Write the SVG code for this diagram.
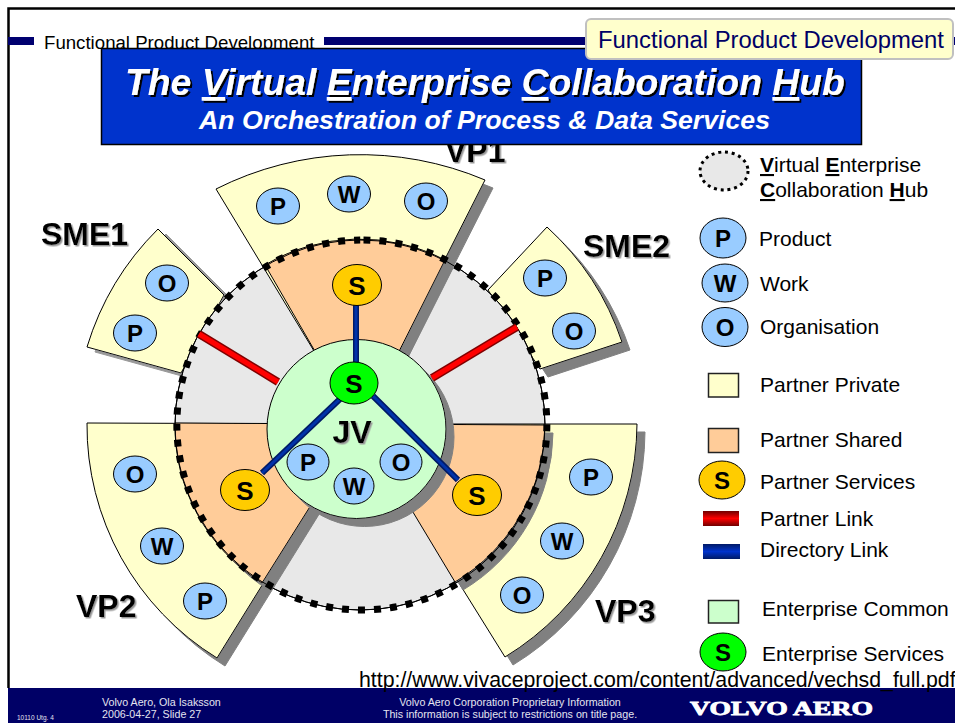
<svg xmlns="http://www.w3.org/2000/svg" width="955" height="723" viewBox="0 0 955 723">
<style>
text{font-family:"Liberation Sans",Arial,sans-serif}
.sec{fill:#FFFFCC;stroke:#000;stroke-width:1;filter:url(#sh)}
.org{fill:#FFCC99;stroke:#000;stroke-width:1;filter:url(#sh)}
.n{stroke:#000;stroke-width:1}
.pwo{fill:#99CCFF}.ps{fill:#FFCC00}.es{fill:#00FF00}
.nt{font-weight:700;font-size:24px;text-anchor:middle;fill:#000}
.big{font-weight:700;font-size:32px;fill:#000;filter:url(#ts)}
.lg{font-size:21px;fill:#000}
.sw{stroke:#222;stroke-width:1.5}
.ft{font-size:10.7px;fill:#E4E4F0}
.bar{fill:#000070}
.ul{text-decoration:underline}
.rd0{stroke:#800000;stroke-width:8}.rd1{stroke:#FF0000;stroke-width:5}
.bl0{stroke:#001A66;stroke-width:6}.bl1{stroke:#0033AA;stroke-width:3}
</style>
<defs>
<filter id="sh" x="-20%" y="-20%" width="140%" height="140%"><feDropShadow dx="8" dy="8" stdDeviation="0" flood-color="#808080"/></filter>
<filter id="sh2" x="-20%" y="-20%" width="140%" height="140%"><feDropShadow dx="8" dy="5" stdDeviation="0" flood-color="#999999"/></filter>
<filter id="ts" x="-10%" y="-20%" width="120%" height="140%"><feDropShadow dx="1.500" dy="1.500" stdDeviation="0.600" flood-color="#999999"/></filter>
<filter id="tb" x="-5%" y="-10%" width="110%" height="130%"><feDropShadow dx="2" dy="2" stdDeviation="0" flood-color="#000000"/></filter>
<linearGradient id="gr" x1="0" y1="0" x2="0" y2="1"><stop offset="0" stop-color="#700000"/><stop offset="0.5" stop-color="#FF0000"/><stop offset="1" stop-color="#700000"/></linearGradient>
<linearGradient id="gb" x1="0" y1="0" x2="0" y2="1"><stop offset="0" stop-color="#001A66"/><stop offset="0.5" stop-color="#0033CC"/><stop offset="1" stop-color="#001A66"/></linearGradient>
</defs>
<rect width="955" height="723" fill="#fff"/>
<g id="frame">
<path d="M8.500,688V8.500H955" fill="none" stroke="#000" stroke-width="2.500"/>
<rect class="bar" x="8" y="37" width="26" height="8"/>
<rect class="bar" x="324" y="37" width="631" height="8"/>
<text x="44" y="49" font-size="18.650" fill="#000">Functional Product Development</text>
</g>
<g id="sme1"><path class="sec" style="filter:url(#sh2)" d="M158,229A282,282 0 0 0 87,347L181,373L224,295Z"/></g>
<g id="sme2"><path class="sec" d="M547,227A274,274 0 0 1 622,342L540,369L488,290Z"/></g>
<circle id="hub-disc" cx="360" cy="425" r="185" fill="#E8E8E8" stroke="#000"/>
<g id="vp1-sector"><path class="sec" d="M216,189A320,320 0 0 1 485,180L360,427Z"/><path class="org" d="M265,265A185,185 0 0 1 445,260L360,429Z"/></g>
<g id="vp2-sector"><path class="sec" d="M87,423A273,273 0 0 0 217,658L362,424Z"/><path class="org" d="M175,423A185,185 0 0 0 262,583L362,424Z"/></g>
<g id="vp3-sector"><path class="sec" d="M360,424L637,424A275,275 0 0 1 505,657Z"/><path class="org" d="M360,424L545,425A185,185 0 0 1 455,582Z"/></g>
<g id="ring" fill="none" stroke="#000">
<circle cx="360" cy="425" r="185"/>
<path d="M363.500,240A185,185 0 1 1 360.200,240" stroke-width="7" stroke-dasharray="7 9"/>
</g>
<g id="jv"><circle cx="356.500" cy="429" r="89.500" fill="#CCFFCC" stroke="#000" filter="url(#sh)"/>
<text class="big" x="352" y="443" text-anchor="middle">JV</text></g>
<g id="connectors" fill="none">
<path class="rd0" d="M199,334L278,382M517,327L432,378"/>
<path class="rd1" d="M199,334L278,382M517,327L432,378"/>
<path class="bl0" d="M356,300V364M340,399L262,473M373,396L458,480"/>
<path class="bl1" d="M356,300V364M340,399L262,473M373,396L458,480"/>
</g>
<g id="labels">
<text class="big" x="41" y="245">SME1</text>
<text class="big" x="583" y="257">SME2</text>
<text class="big" x="445" y="162">VP1</text>
<text class="big" x="76" y="617">VP2</text>
<text class="big" x="595" y="622">VP3</text>
</g>
<g id="vp1-p"><ellipse class="n pwo" cx="278" cy="206" rx="21.500" ry="18"/><text class="nt" x="278" y="214.500">P</text></g>
<g id="vp1-w"><ellipse class="n pwo" cx="349" cy="194" rx="21.500" ry="18"/><text class="nt" x="349" y="202.500">W</text></g>
<g id="vp1-o"><ellipse class="n pwo" cx="426" cy="201" rx="21.500" ry="18"/><text class="nt" x="426" y="209.500">O</text></g>
<g id="sme1-o"><ellipse class="n pwo" cx="167" cy="283" rx="21.500" ry="18"/><text class="nt" x="167" y="291.500">O</text></g>
<g id="sme1-p"><ellipse class="n pwo" cx="135" cy="333" rx="21.500" ry="18"/><text class="nt" x="135" y="341.500">P</text></g>
<g id="sme2-p"><ellipse class="n pwo" cx="545" cy="278" rx="21.500" ry="18"/><text class="nt" x="545" y="286.500">P</text></g>
<g id="sme2-o"><ellipse class="n pwo" cx="574" cy="331" rx="21.500" ry="18"/><text class="nt" x="574" y="339.500">O</text></g>
<g id="jv-p"><ellipse class="n pwo" cx="308" cy="462" rx="21" ry="18"/><text class="nt" x="308" y="470.500">P</text></g>
<g id="jv-w"><ellipse class="n pwo" cx="354" cy="486" rx="20" ry="18"/><text class="nt" x="354" y="494.500">W</text></g>
<g id="jv-o"><ellipse class="n pwo" cx="401" cy="462" rx="21" ry="18"/><text class="nt" x="401" y="470.500">O</text></g>
<g id="vp2-o"><ellipse class="n pwo" cx="135" cy="474" rx="21.500" ry="18"/><text class="nt" x="135" y="482.500">O</text></g>
<g id="vp2-w"><ellipse class="n pwo" cx="162" cy="546" rx="21.500" ry="18"/><text class="nt" x="162" y="554.500">W</text></g>
<g id="vp2-p"><ellipse class="n pwo" cx="205" cy="601" rx="21.500" ry="18"/><text class="nt" x="205" y="609.500">P</text></g>
<g id="vp3-p"><ellipse class="n pwo" cx="591" cy="477" rx="21.500" ry="18"/><text class="nt" x="591" y="485.500">P</text></g>
<g id="vp3-w"><ellipse class="n pwo" cx="562" cy="541" rx="21.500" ry="18"/><text class="nt" x="562" y="549.500">W</text></g>
<g id="vp3-o"><ellipse class="n pwo" cx="522" cy="595" rx="21.500" ry="18"/><text class="nt" x="522" y="603.500">O</text></g>
<g id="vp1-s"><ellipse class="n ps" cx="357" cy="285" rx="24.500" ry="20.500"/><text class="nt" x="357" y="294.500" style="font-size:26px">S</text></g>
<g id="vp2-s"><ellipse class="n ps" cx="245" cy="490" rx="24.500" ry="20.500"/><text class="nt" x="245" y="499.500" style="font-size:26px">S</text></g>
<g id="vp3-s"><ellipse class="n ps" cx="477" cy="495" rx="24.500" ry="20.500"/><text class="nt" x="477" y="504.500" style="font-size:26px">S</text></g>
<g id="jv-s"><ellipse class="n es" cx="354" cy="383" rx="24" ry="21"/><text class="nt" x="354" y="392.500" style="font-size:26px">S</text></g>
<g id="title">
<rect x="101.500" y="48.500" width="760" height="96" fill="#0033CC" stroke="#000" stroke-width="1.500"/>
<text x="125" y="95" font-size="37.300" font-weight="700" font-style="italic" fill="#fff" filter="url(#tb)">The <tspan class="ul">V</tspan>irtual <tspan class="ul">E</tspan>nterprise <tspan class="ul">C</tspan>ollaboration <tspan class="ul">H</tspan>ub</text>
<text x="199" y="129" font-size="26.700" font-weight="700" font-style="italic" fill="#fff">An Orchestration of Process &amp; Data Services</text>
</g>
<g id="callout">
<rect x="586" y="19" width="367" height="40" rx="5" fill="#FFFFCC" stroke="#C0C0C0" stroke-width="2"/>
<text x="598" y="48" font-size="23.850" fill="#000066">Functional Product Development</text>
</g>
<g id="legend">
<g id="lg-hub"><ellipse cx="724" cy="171" rx="24" ry="19" fill="#E8E8E8" stroke="#000" stroke-width="3" stroke-dasharray="3 3.800"/>
<text class="lg" x="760" y="172"><tspan class="ul" font-weight="700">V</tspan>irtual <tspan class="ul" font-weight="700">E</tspan>nterprise</text>
<text class="lg" x="760" y="197"><tspan class="ul" font-weight="700">C</tspan>ollaboration <tspan class="ul" font-weight="700">H</tspan>ub</text></g>
<g id="lg-p"><ellipse class="n pwo" cx="723" cy="238" rx="23" ry="20"/><text class="nt" x="723" y="247">P</text><text class="lg" x="759" y="246">Product</text></g>
<g id="lg-w"><ellipse class="n pwo" cx="725" cy="283" rx="23" ry="19"/><text class="nt" x="725" y="292">W</text><text class="lg" x="760" y="291">Work</text></g>
<g id="lg-o"><ellipse class="n pwo" cx="725" cy="327" rx="23" ry="19.500"/><text class="nt" x="725" y="336">O</text><text class="lg" x="760" y="334">Organisation</text></g>
<g id="lg-private"><rect class="sw" x="708.500" y="373.500" width="30" height="23.500" fill="#FFFFCC"/><text class="lg" x="760" y="392">Partner Private</text></g>
<g id="lg-shared"><rect class="sw" x="708.500" y="428.500" width="30" height="24" fill="#FFCC99"/><text class="lg" x="760" y="447">Partner Shared</text></g>
<g id="lg-ps"><ellipse class="n ps" cx="722" cy="480" rx="23" ry="19"/><text class="nt" x="722" y="489">S</text><text class="lg" x="760" y="489">Partner Services</text></g>
<g id="lg-pl"><rect x="703" y="511" width="36" height="15" fill="url(#gr)"/><text class="lg" x="760" y="526">Partner Link</text></g>
<g id="lg-dl"><rect x="703" y="544" width="37" height="15" fill="url(#gb)"/><text class="lg" x="760" y="557">Directory Link</text></g>
<g id="lg-common"><rect class="sw" x="708.500" y="600.500" width="30" height="22.500" fill="#CCFFCC"/><text class="lg" x="762" y="616">Enterprise Common</text></g>
<g id="lg-es"><ellipse class="n es" cx="723" cy="652" rx="23" ry="19"/><text class="nt" x="723" y="661">S</text><text class="lg" x="762" y="661">Enterprise Services</text></g>
</g>
<g id="footer">
<rect x="8" y="688" width="947" height="35" fill="#000066"/>
<text x="17" y="720" font-size="6.500" fill="#E4E4F0">10110 Utg. 4</text>
<text class="ft" x="102" y="706">Volvo Aero, Ola Isaksson</text>
<text class="ft" x="102" y="718">2006-04-27, Slide 27</text>
<text class="ft" x="510" y="706" text-anchor="middle">Volvo Aero Corporation Proprietary Information</text>
<text class="ft" x="510" y="718" text-anchor="middle">This information is subject to restrictions on title page.</text>
<text x="690" y="715" font-size="18" font-weight="700" fill="#fff" stroke="#fff" stroke-width="0.800" textLength="183" lengthAdjust="spacingAndGlyphs" style="font-family:'Liberation Serif',serif">VOLVO AERO</text>
</g>
<text id="url" x="359" y="687" font-size="21.300" fill="#000">http://www.vivaceproject.com/content/advanced/vechsd_full.pdf</text>
</svg>
